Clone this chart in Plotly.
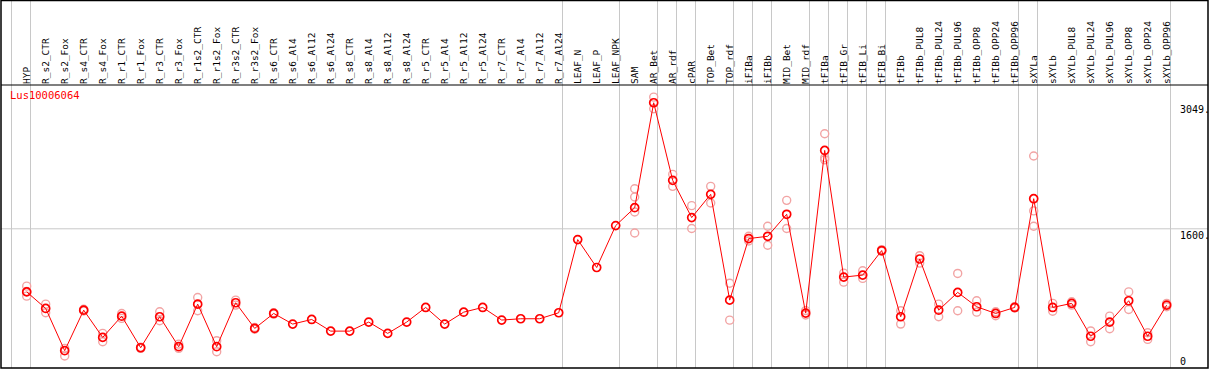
import plotly.graph_objects as go

categories = ["HYP", "R_s2_CTR", "R_s2_Fox", "R_s4_CTR", "R_s4_Fox", "R_r1_CTR", "R_r1_Fox",
              "R_r3_CTR", "R_r3_Fox", "R_r1s2_CTR", "R_r1s2_Fox", "R_r3s2_CTR", "R_r3s2_Fox",
              "R_s6_CTR", "R_s6_Al4", "R_s6_Al12", "R_s6_Al24", "R_s8_CTR", "R_s8_Al4",
              "R_s8_Al12", "R_s8_Al24", "R_r5_CTR", "R_r5_Al4", "R_r5_Al12", "R_r5_Al24",
              "R_r7_CTR", "R_r7_Al4", "R_r7_Al12", "R_r7_Al24", "LEAF_N", "LEAF_P", "LEAF_NPK",
              "SAM", "AR_Bet", "AR_rdf", "cPAR", "TOP_Bet", "TOP_rdf", "iFIBa", "iFIBb",
              "MID_Bet", "MID_rdf", "tFIBa", "tFIB_Gr", "tFIB_Li", "tFIB_Bi", "tFIBb",
              "tFIBb_PUL8", "tFIBb_PUL24", "tFIBb_PUL96", "tFIBb_OPP8", "tFIBb_OPP24",
              "tFIBb_OPP96", "sXYLa", "sXYLb", "sXYLb_PUL8", "sXYLb_PUL24", "sXYLb_PUL96",
              "sXYLb_OPP8", "sXYLb_OPP24", "sXYLb_OPP96"]

means = [875, 685, 199, 665, 352, 596, 233, 589, 245, 734, 245, 750, 455,
         627, 505, 558, 424, 424, 528, 398, 528, 696, 505, 642, 696,
         551, 566, 566, 635, 1476, 1155, 1637,
         1843, 3049, 2157, 1729, 1996, 780, 1488, 1514, 1767, 631, 2501, 1045, 1068, 1350,
         589, 1253, 665, 869, 704, 627, 696, 1946, 696, 743, 365, 528, 773, 365, 723]

N = None
rep1 = [941, 734, 138, 675, 302, 627, 240, 646, 275, 811, 314, 780, 465,
        635, N, N, N, N, N, N, N, N, N, N, N, N, N, N, N, N, N, N,
        2061, 3114, 2226, 1866, 2088, 975, 1514, 1629, 1927, 660, 2693, 1091, 1117, 1360,
        658, 1291, 734, 1087, 773, 646, 705, 2437, 743, 762, 426, 596, 875, 405, 743]
rep2 = [826, 635, 226, 655, 398, 570, 226, 543, 226, 658, 187, 723, 445,
        620, N, N, N, N, N, N, N, N, N, N, N, N, N, N, N, N, N, N,
        1965, 2980, 2088, 1603, 1896, 550, 1460, 1411, 1603, 610, 2393, 987, 1030, 1340,
        505, 1206, 589, 658, 642, 601, 690, 1806, 653, 723, 302, 451, 673, 329, 704]
rep3 = [880, N, N, N, N, N, N, N, N, N, N, N, N,
        N, N, N, N, N, N, N, N, N, N, N, N, N, N, N, N, N, N, N,
        1793, N, N, N, N, N, N, N, N, N, 2417, N, N, N,
        N, N, N, N, N, N, N, 1629, N, N, N, N, N, N, N]
rep4 = [N] * 32 + [1552] + [N] * 28

group_ends = [-1, 0, 28, 31, 33, 34, 35, 37, 38, 39, 41, 42, 43, 44, 45, 52, 53, 60]
axis_values = [3049, 1600, 0]
axis_texts = ["3049.", "1600.", "0"]
title_text = "Lus10006064"

FONT = "DejaVu Sans Mono"
W, H = 1209, 370
ML, MR, MT, MB = 1, 1, 85, 2
plot_h = H - MT - MB
x_left = (ML - 26.7) / 19.0
x_right = (W - MR - 26.7) / 19.0
y_top = 3253

fig = go.Figure()

xs = list(range(len(categories)))
for reps in (rep1, rep2, rep3, rep4):
    px = [i for i, v in enumerate(reps) if v is not None]
    py = [v for v in reps if v is not None]
    fig.add_trace(go.Scatter(x=px, y=py, mode="markers",
                             marker=dict(symbol="circle-open", size=8, color="#f2a4a4",
                                         line=dict(width=1.4, color="#f2a4a4")),
                             hoverinfo="skip", showlegend=False, cliponaxis=False))

fig.add_trace(go.Scatter(x=xs, y=means, mode="lines",
                         line=dict(color="#ff0000", width=1),
                         hoverinfo="skip", showlegend=False))
fig.add_trace(go.Scatter(x=xs, y=means, mode="markers",
                         marker=dict(symbol="circle-open", size=8, color="#ff0000",
                                     line=dict(width=1.7, color="#ff0000")),
                         showlegend=False, cliponaxis=False))

top_paper = (H - MB - 0.5) / plot_h
shapes = []
for g in group_ends:
    shapes.append(dict(type="line", xref="x", yref="paper", x0=g + 0.2, x1=g + 0.2,
                       y0=0, y1=top_paper, line=dict(color="#c8c8c8", width=1), layer="below"))
shapes.append(dict(type="line", xref="paper", yref="y", x0=0, x1=1, y0=1600, y1=1600,
                   line=dict(color="#c8c8c8", width=1), layer="below"))
# frame
shapes.append(dict(type="rect", xref="paper", yref="paper", x0=0, x1=1, y0=0, y1=top_paper,
                   line=dict(color="black", width=1.5), layer="above"))
shapes.append(dict(type="line", xref="paper", yref="paper", x0=0, x1=1, y0=1, y1=1,
                   line=dict(color="black", width=1.2), layer="above"))

annotations = []
for v, t in zip(axis_values, axis_texts):
    annotations.append(dict(xref="x", yref="y", x=60.65, y=v, text=t, showarrow=False,
                            xanchor="left", yanchor="bottom" if v == 0 else "top",
                            borderpad=0, font=dict(family=FONT, size=10, color="black")))
annotations.append(dict(xref="paper", yref="paper", x=(9 - ML) / (W - ML - MR), y=1,
                        text=title_text, showarrow=False, xanchor="left", yanchor="top",
                        yshift=-3, borderpad=0,
                        font=dict(family=FONT, size=10.5, color="#ff0000")))

fig.update_layout(
    width=W, height=H,
    margin=dict(l=ML, r=MR, t=MT, b=MB, pad=0, autoexpand=False),
    paper_bgcolor="white", plot_bgcolor="white",
    shapes=shapes, annotations=annotations,
    xaxis=dict(range=[x_left, x_right], side="top", tickmode="array", tickvals=xs,
               ticktext=categories, tickangle=-90, showgrid=False, zeroline=False,
               showline=False, ticks="", automargin=False,
               tickfont=dict(family=FONT, size=9.5, color="black")),
    yaxis=dict(range=[0, y_top], showgrid=False, zeroline=False, showticklabels=False,
               showline=False, ticks="", automargin=False),
)

fig.write_html("out.html", config={"displayModeBar": False},
               post_script="document.body.style.margin='0px';document.body.style.overflow='hidden';")
